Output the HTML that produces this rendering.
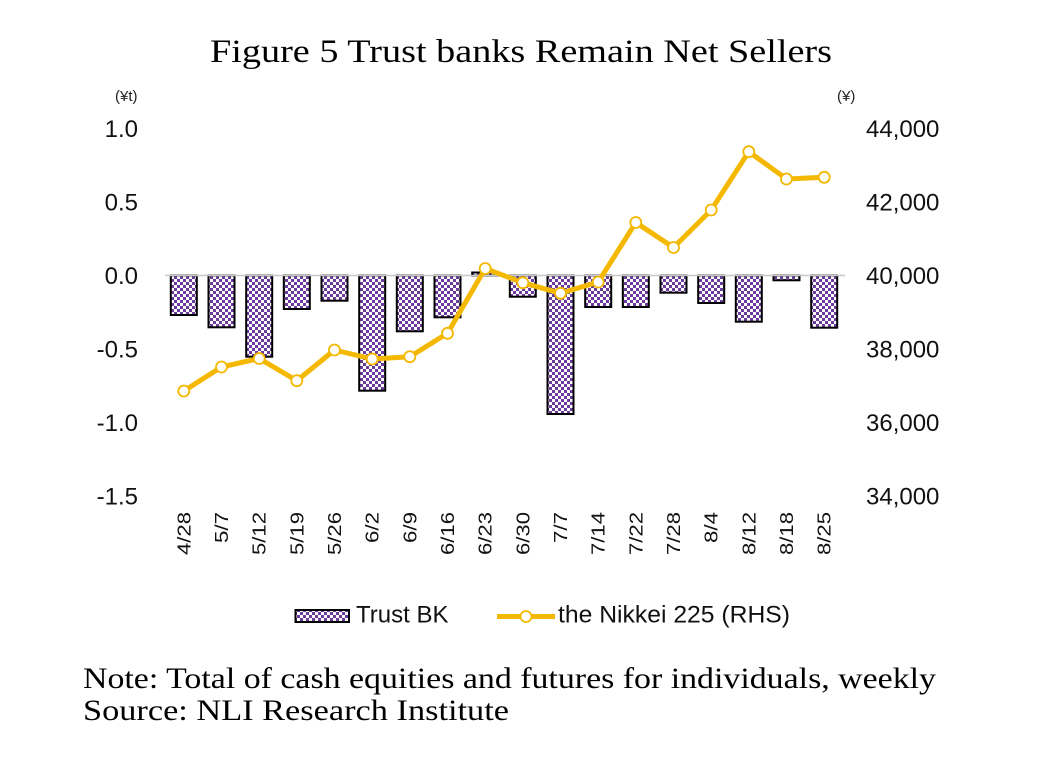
<!DOCTYPE html>
<html>
<head>
<meta charset="utf-8">
<style>
html,body{margin:0;padding:0;background:#fff;}
svg{display:block;}
</style>
</head>
<body>
<svg width="1054" height="758" viewBox="0 0 1054 758" xmlns="http://www.w3.org/2000/svg">
<defs>
<pattern id="chk" x="0" y="0" width="6" height="6" patternUnits="userSpaceOnUse">
<rect x="0" y="0" width="6" height="6" fill="#ffffff"/>
<rect x="0" y="0" width="3" height="3" fill="#6a3b9c"/>
<rect x="3" y="3" width="3" height="3" fill="#6a3b9c"/>
</pattern>
</defs>
<rect width="1054" height="758" fill="#fff"/>

<!-- Title -->
<text x="210" y="62" font-family="Liberation Serif, serif" font-size="33" fill="#000" textLength="622" lengthAdjust="spacingAndGlyphs">Figure 5 Trust banks Remain Net Sellers</text>

<!-- Axis units -->
<text x="115" y="101" font-family="Liberation Sans, sans-serif" font-size="15" fill="#222">(¥t)</text>
<text x="837" y="101" font-family="Liberation Sans, sans-serif" font-size="15" fill="#222">(¥)</text>

<!-- Left tick labels -->
<g font-family="Liberation Sans, sans-serif" font-size="24" fill="#111" text-anchor="end">
<text x="138" y="137">1.0</text>
<text x="138" y="210.5">0.5</text>
<text x="138" y="284">0.0</text>
<text x="138" y="357.5">-0.5</text>
<text x="138" y="431">-1.0</text>
<text x="138" y="504.5">-1.5</text>
</g>
<!-- Right tick labels -->
<g font-family="Liberation Sans, sans-serif" font-size="24" fill="#111" text-anchor="start">
<text x="866" y="137">44,000</text>
<text x="866" y="210.5">42,000</text>
<text x="866" y="284">40,000</text>
<text x="866" y="357.5">38,000</text>
<text x="866" y="431">36,000</text>
<text x="866" y="504.5">34,000</text>
</g>

<!-- Bars -->
<g fill="url(#chk)" stroke="#000" stroke-width="2">
<rect x="170.8" y="275.5" width="26" height="39.5"/>
<rect x="208.5" y="275.5" width="26" height="51.8"/>
<rect x="246.2" y="275.5" width="26" height="81.2"/>
<rect x="283.8" y="275.5" width="26" height="33.5"/>
<rect x="321.5" y="275.5" width="26" height="25.2"/>
<rect x="359.2" y="275.5" width="26" height="115.2"/>
<rect x="396.8" y="275.5" width="26" height="55.8"/>
<rect x="434.5" y="275.5" width="26" height="41.8"/>
<rect x="472.2" y="272.5" width="26" height="3"/>
<rect x="509.8" y="275.5" width="26" height="21.2"/>
<rect x="547.5" y="275.5" width="26" height="138.5"/>
<rect x="585.2" y="275.5" width="26" height="31.5"/>
<rect x="622.8" y="275.5" width="26" height="31.5"/>
<rect x="660.5" y="275.5" width="26" height="17.2"/>
<rect x="698.2" y="275.5" width="26" height="27.5"/>
<rect x="735.8" y="275.5" width="26" height="46.2"/>
<rect x="773.5" y="275.5" width="26" height="4.8"/>
<rect x="811.2" y="275.5" width="26" height="52.2"/>
</g>

<!-- Zero line -->
<line x1="165" y1="275.5" x2="845" y2="275.5" stroke="#c8c8c8" stroke-width="1.5"/>

<!-- Nikkei line -->
<polyline fill="none" stroke="#f5b800" stroke-width="5" stroke-linejoin="round" points="183.8,391 221.5,367 259.2,358.5 296.8,380.7 334.5,350 372.2,359 409.8,356.7 447.5,333.3 485.2,268.5 522.8,282.7 560.5,293.3 598.2,282 635.8,222.5 673.5,247.5 711.2,210 748.8,151.7 786.5,179 824.2,177.3"/>
<g fill="#fff" stroke="#f5b800" stroke-width="1.8">
<circle cx="183.8" cy="391" r="5.5"/>
<circle cx="221.5" cy="367" r="5.5"/>
<circle cx="259.2" cy="358.5" r="5.5"/>
<circle cx="296.8" cy="380.7" r="5.5"/>
<circle cx="334.5" cy="350" r="5.5"/>
<circle cx="372.2" cy="359" r="5.5"/>
<circle cx="409.8" cy="356.7" r="5.5"/>
<circle cx="447.5" cy="333.3" r="5.5"/>
<circle cx="485.2" cy="268.5" r="5.5"/>
<circle cx="522.8" cy="282.7" r="5.5"/>
<circle cx="560.5" cy="293.3" r="5.5"/>
<circle cx="598.2" cy="282" r="5.5"/>
<circle cx="635.8" cy="222.5" r="5.5"/>
<circle cx="673.5" cy="247.5" r="5.5"/>
<circle cx="711.2" cy="210" r="5.5"/>
<circle cx="748.8" cy="151.7" r="5.5"/>
<circle cx="786.5" cy="179" r="5.5"/>
<circle cx="824.2" cy="177.3" r="5.5"/>
</g>

<!-- X labels -->
<g font-family="Liberation Sans, sans-serif" font-size="18" fill="#111" text-anchor="end" lengthAdjust="spacingAndGlyphs">
<text transform="translate(190.3,512) rotate(-90)" textLength="43" lengthAdjust="spacingAndGlyphs">4/28</text>
<text transform="translate(228,512) rotate(-90)" textLength="31" lengthAdjust="spacingAndGlyphs">5/7</text>
<text transform="translate(265.7,512) rotate(-90)" textLength="43" lengthAdjust="spacingAndGlyphs">5/12</text>
<text transform="translate(303.3,512) rotate(-90)" textLength="43" lengthAdjust="spacingAndGlyphs">5/19</text>
<text transform="translate(341,512) rotate(-90)" textLength="43" lengthAdjust="spacingAndGlyphs">5/26</text>
<text transform="translate(378.7,512) rotate(-90)" textLength="31" lengthAdjust="spacingAndGlyphs">6/2</text>
<text transform="translate(416.3,512) rotate(-90)" textLength="31" lengthAdjust="spacingAndGlyphs">6/9</text>
<text transform="translate(454,512) rotate(-90)" textLength="43" lengthAdjust="spacingAndGlyphs">6/16</text>
<text transform="translate(491.7,512) rotate(-90)" textLength="43" lengthAdjust="spacingAndGlyphs">6/23</text>
<text transform="translate(529.3,512) rotate(-90)" textLength="43" lengthAdjust="spacingAndGlyphs">6/30</text>
<text transform="translate(567,512) rotate(-90)" textLength="31" lengthAdjust="spacingAndGlyphs">7/7</text>
<text transform="translate(604.7,512) rotate(-90)" textLength="43" lengthAdjust="spacingAndGlyphs">7/14</text>
<text transform="translate(642.3,512) rotate(-90)" textLength="43" lengthAdjust="spacingAndGlyphs">7/22</text>
<text transform="translate(680,512) rotate(-90)" textLength="43" lengthAdjust="spacingAndGlyphs">7/28</text>
<text transform="translate(717.7,512) rotate(-90)" textLength="31" lengthAdjust="spacingAndGlyphs">8/4</text>
<text transform="translate(755.3,512) rotate(-90)" textLength="43" lengthAdjust="spacingAndGlyphs">8/12</text>
<text transform="translate(793,512) rotate(-90)" textLength="43" lengthAdjust="spacingAndGlyphs">8/18</text>
<text transform="translate(830.7,512) rotate(-90)" textLength="43" lengthAdjust="spacingAndGlyphs">8/25</text>
</g>

<!-- Legend -->
<rect x="295.5" y="610" width="53.5" height="12" fill="url(#chk)" stroke="#000" stroke-width="2"/>
<text x="356" y="622.5" font-family="Liberation Sans, sans-serif" font-size="24" fill="#111">Trust BK</text>
<line x1="497" y1="616.5" x2="555" y2="616.5" stroke="#f5b800" stroke-width="5"/>
<circle cx="526" cy="616.5" r="5.5" fill="#fff" stroke="#f5b800" stroke-width="1.8"/>
<text x="558" y="622.5" font-family="Liberation Sans, sans-serif" font-size="24" fill="#111" textLength="232" lengthAdjust="spacingAndGlyphs">the Nikkei 225 (RHS)</text>

<!-- Notes -->
<text x="83" y="688" font-family="Liberation Serif, serif" font-size="30" fill="#000" textLength="853" lengthAdjust="spacingAndGlyphs">Note: Total of cash equities and futures for individuals, weekly</text>
<text x="83" y="720" font-family="Liberation Serif, serif" font-size="30" fill="#000" textLength="426" lengthAdjust="spacingAndGlyphs">Source: NLI Research Institute</text>
</svg>
</body>
</html>
